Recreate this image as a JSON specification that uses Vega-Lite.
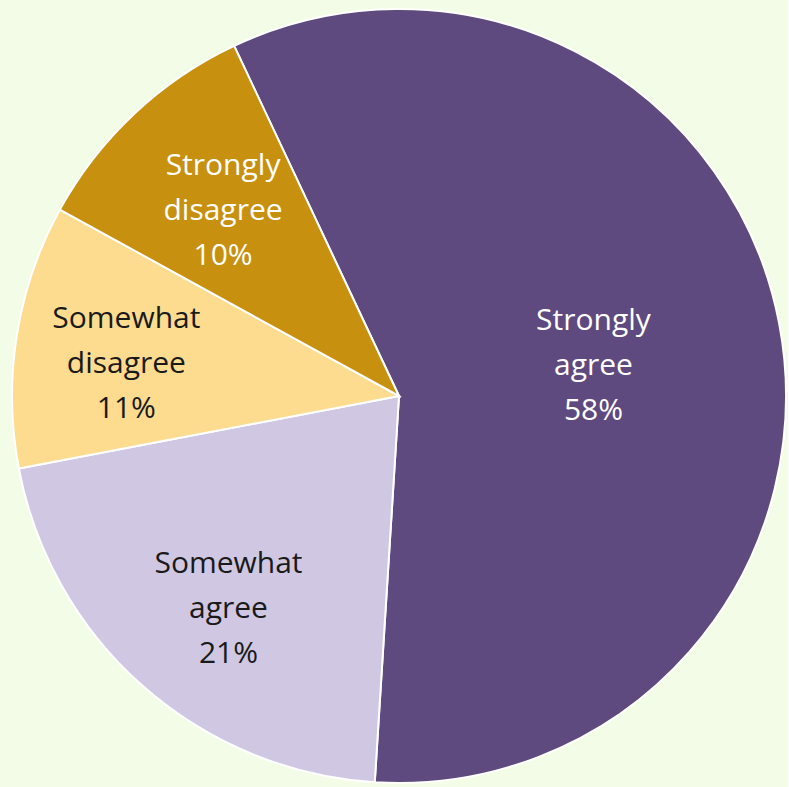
{
  "$schema": "https://vega.github.io/schema/vega-lite/v6.json",
  "width": 778,
  "height": 782,
  "autosize": {"type": "none"},
  "padding": {"left": 10, "top": 5, "right": 0, "bottom": 0},
  "background": "#F2FCE6",
  "config": {"view": {"stroke": null}},
  "data": {
    "values": [
      {"category": "Strongly agree", "pct": 58, "order": 1},
      {"category": "Somewhat agree", "pct": 21, "order": 2},
      {"category": "Somewhat disagree", "pct": 11, "order": 3},
      {"category": "Strongly disagree", "pct": 10, "order": 4}
    ]
  },
  "transform": [
    {"stack": "pct", "groupby": [], "sort": [{"field": "order", "order": "ascending"}], "as": ["t0", "t1"]},
    {"calculate": "(datum.t0 + datum.t1) / 2", "as": "tmid"},
    {"calculate": "replace(datum.category, ' ', '\\n') + '\\n' + datum.pct + '%'", "as": "label"}
  ],
  "layer": [
    {
      "mark": {"type": "arc", "radius": 387, "stroke": "#FFFFFF", "strokeWidth": 2},
      "encoding": {
        "theta": {"field": "t0", "type": "quantitative", "scale": {"domain": [0, 100], "range": [-0.44, 5.8432]}},
        "theta2": {"field": "t1"},
        "color": {
          "field": "category",
          "type": "nominal",
          "legend": null,
          "scale": {
            "domain": ["Strongly agree", "Somewhat agree", "Somewhat disagree", "Strongly disagree"],
            "range": ["#5E4A7E", "#D0C8E2", "#FDDC8F", "#C8900F"]
          }
        }
      }
    },
    {
      "transform": [{"filter": "datum.category == 'Strongly agree'"}],
      "mark": {"type": "text", "radius": 198, "dy": -38, "font": "Open Sans", "fontSize": 30, "lineBreak": "\n", "lineHeight": 45, "align": "center", "baseline": "middle", "color": "#FFFFFF"},
      "encoding": {
        "theta": {"field": "tmid", "type": "quantitative", "scale": {"domain": [0, 100], "range": [-0.44, 5.8432]}},
        "text": {"field": "label"}
      }
    },
    {
      "transform": [{"filter": "datum.category == 'Strongly disagree'"}],
      "mark": {"type": "text", "radius": 257, "dy": -43, "font": "Open Sans", "fontSize": 30, "lineBreak": "\n", "lineHeight": 45, "align": "center", "baseline": "middle", "color": "#FFFFFF"},
      "encoding": {
        "theta": {"field": "tmid", "type": "quantitative", "scale": {"domain": [0, 100], "range": [-0.44, 5.8432]}},
        "text": {"field": "label"}
      }
    },
    {
      "transform": [{"filter": "datum.category == 'Somewhat agree'"}],
      "mark": {"type": "text", "radius": 273, "dx": 10, "dy": -37, "font": "Open Sans", "fontSize": 30, "lineBreak": "\n", "lineHeight": 45, "align": "center", "baseline": "middle", "color": "#1A1A1A"},
      "encoding": {
        "theta": {"field": "tmid", "type": "quantitative", "scale": {"domain": [0, 100], "range": [-0.44, 5.8432]}},
        "text": {"field": "label"}
      }
    },
    {
      "transform": [{"filter": "datum.category == 'Somewhat disagree'"}],
      "mark": {"type": "text", "radius": 273, "dx": -3, "dy": -34, "font": "Open Sans", "fontSize": 30, "lineBreak": "\n", "lineHeight": 45, "align": "center", "baseline": "middle", "color": "#1A1A1A"},
      "encoding": {
        "theta": {"field": "tmid", "type": "quantitative", "scale": {"domain": [0, 100], "range": [-0.44, 5.8432]}},
        "text": {"field": "label"}
      }
    }
  ]
}
